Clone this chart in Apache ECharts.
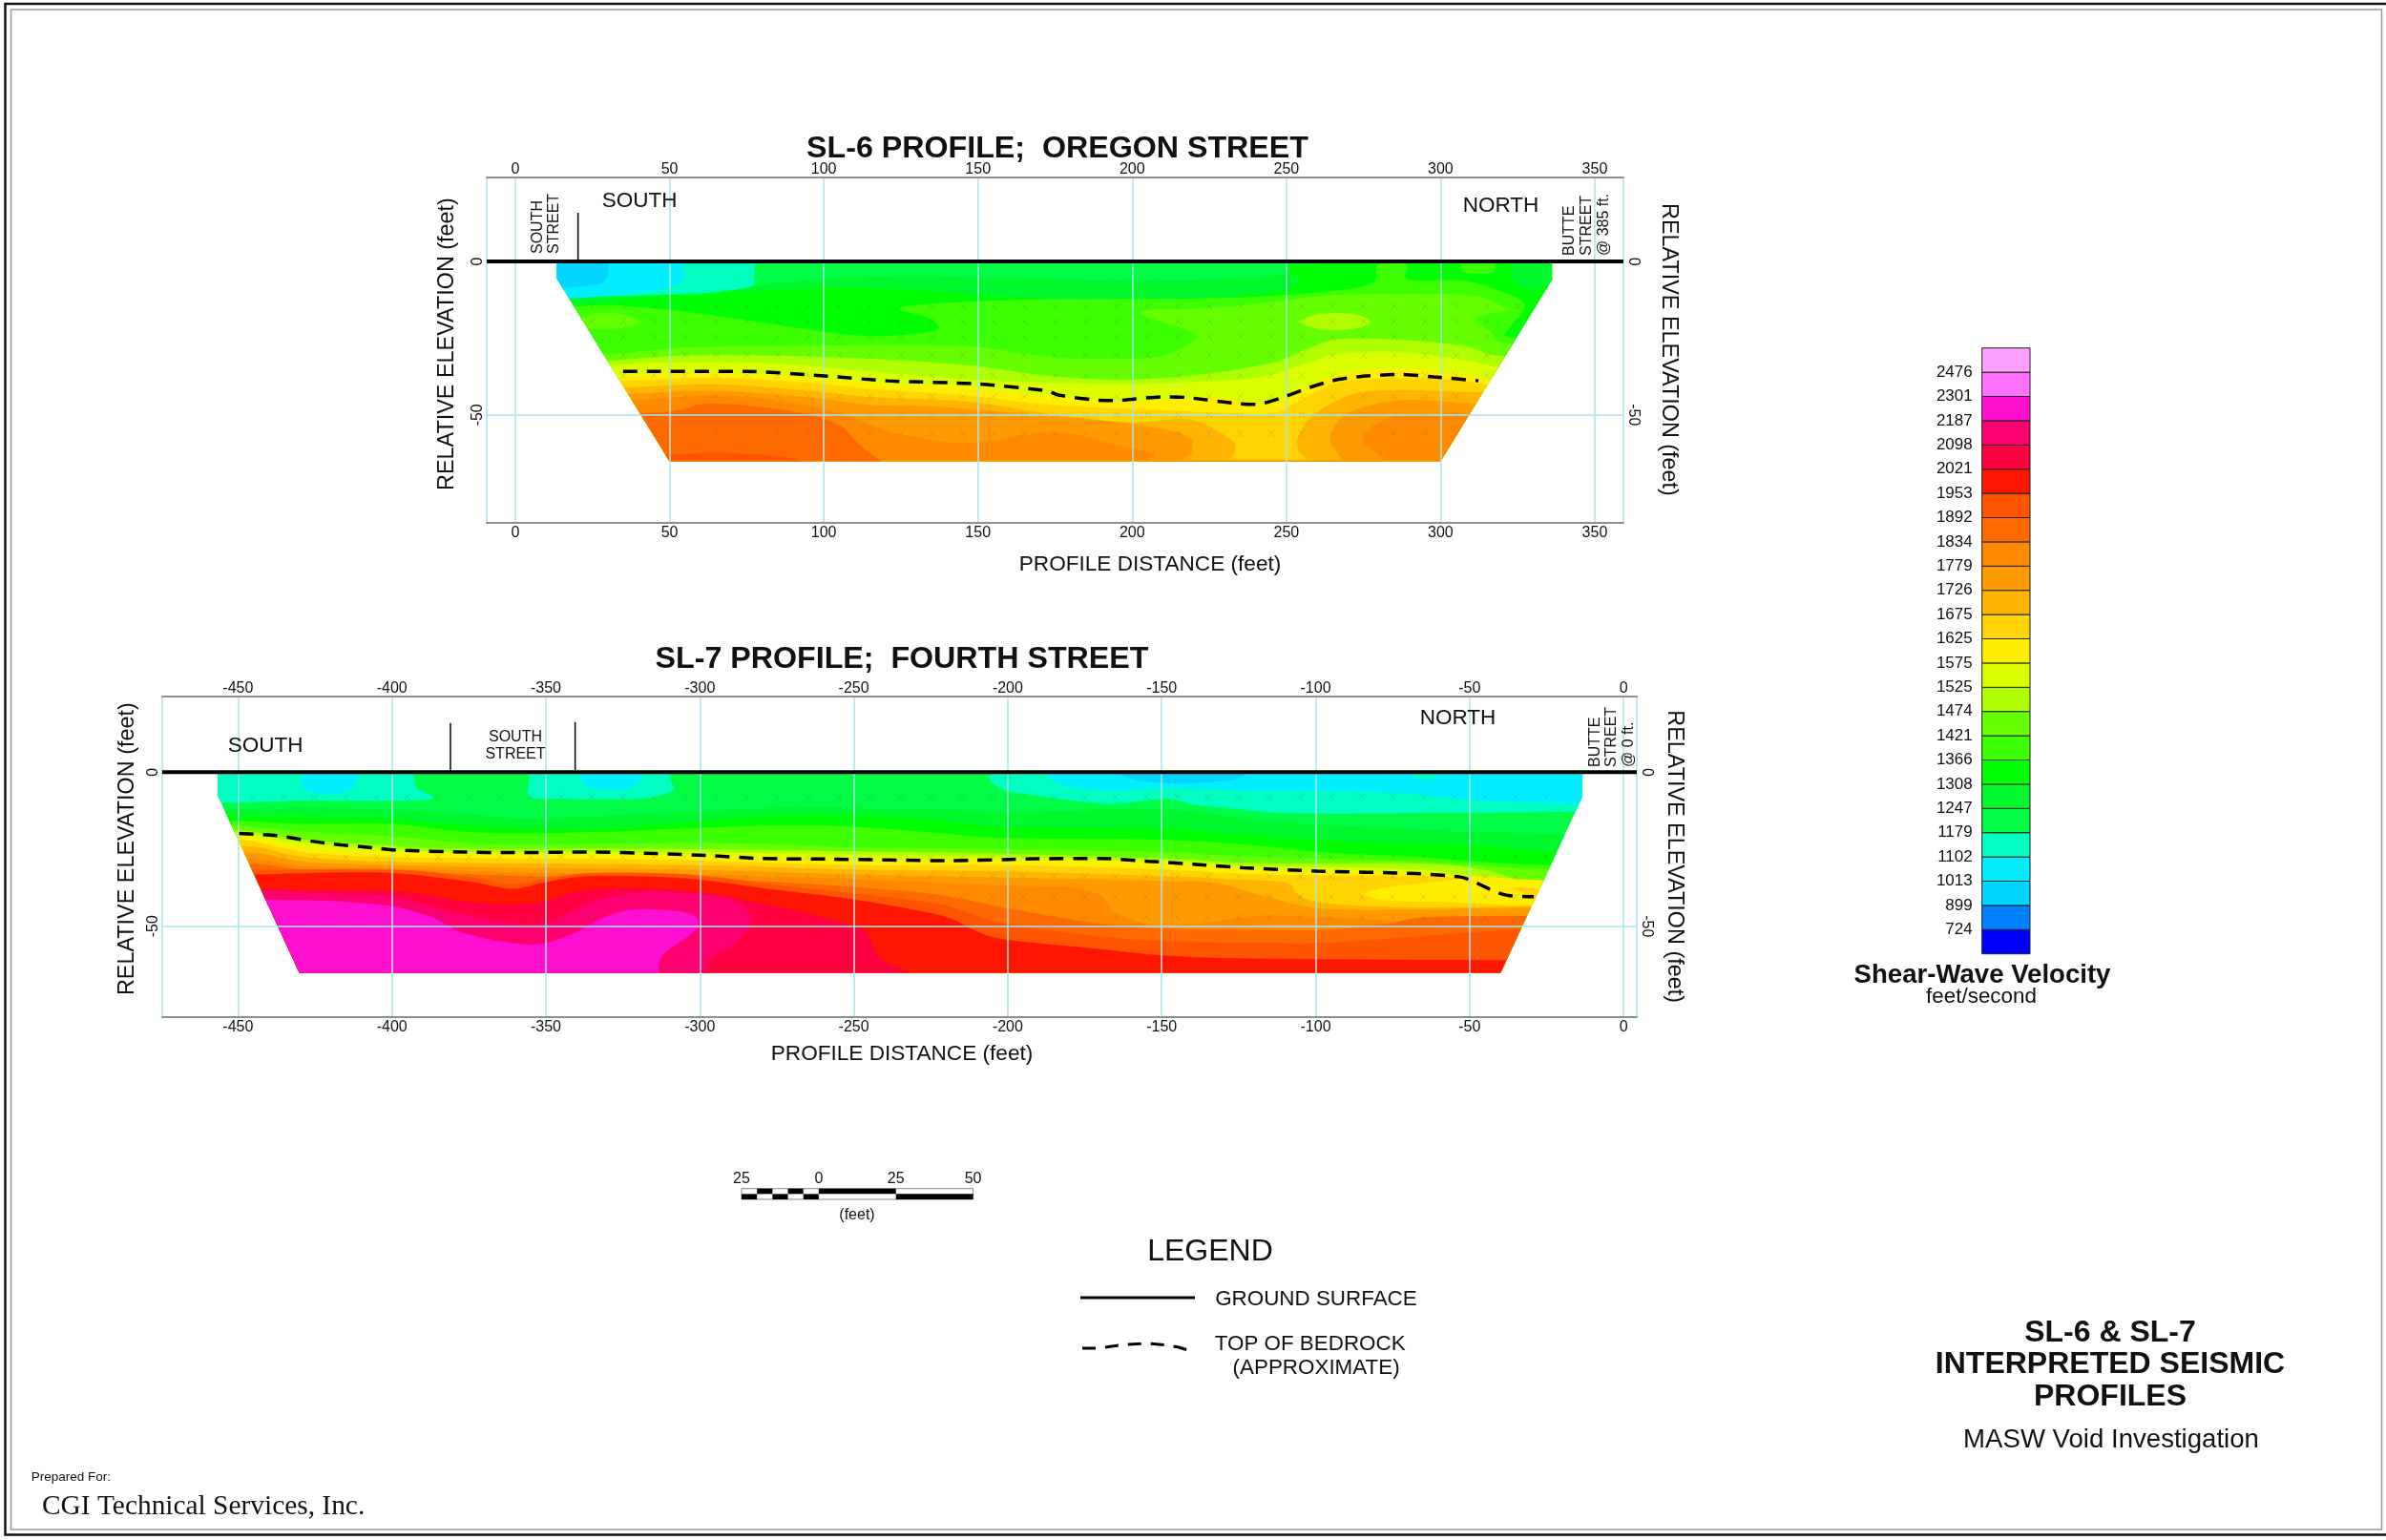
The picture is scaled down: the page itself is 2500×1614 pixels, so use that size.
<!DOCTYPE html>
<html><head><meta charset="utf-8">
<style>html,body{margin:0;padding:0;background:#fff}#c{width:2500px;height:1614px}</style>
<script src="https://cdn.jsdelivr.net/npm/echarts@6/dist/echarts.min.js"></script>
</head><body><div id="c"></div>
<script>
// ---- velocity scale (feet/second) ----
const velocityLabels = [724,899,1013,1102,1179,1247,1308,1366,1421,1474,1525,1575,1625,1675,1726,1779,1834,1892,1953,2021,2098,2187,2301,2476];
const velocityColors = ['#0000ff','#0080ff','#00d4ff','#00eeff','#00ffc0','#00fc44','#00f82c','#00ff00','#3cff00','#66ff00','#b0ff00','#dcff00','#ffee00','#ffd400','#ffb400','#ff9a00','#ff8a00','#ff6a00','#ff5500','#ff1500','#ff0040','#ff0070','#ff10d0','#ff70ff','#ffa0ff'];

// ---- SL-6 : section outline, [distance ft, elevation ft] ----
const sl6Outline = [[13.5,0],[13.5,-5.5],[50,-65],[300,-65],[336,-6],[336,0]];
const sl6BaseVelocity = 1210;
const sl6C1280 = [[0,-11],[53.7,-10],[76,-8],[100,-6],[130,-5],[174,-6],[205,-6.5],[240,-5.5],[254,-3],[257,0],[345,0]];
const sl6C1340 = [[0,-14],[18.6,-14.2],[53.7,-10.6],[84.6,-9.5],[110.4,-8.5],[136,-10],[174,-12.4],[215,-12.7],[246,-10],[254.5,-6.4],[256.6,-0.7],[345,-0.7]];
const sl6C1390 = [[0,-14.5],[18.6,-14.7],[33,-14.4],[53.7,-16.3],[79.5,-19.9],[100,-23],[115.6,-24.4],[131,-23.5],[137.3,-22],[134.2,-18.4],[124.9,-15],[146.6,-13.2],[174,-12.4],[225.6,-12.1],[254.5,-10.6],[277.2,-7.5],[279.8,-1],[289,-1],[289.6,-6],[308.2,-6.4],[321.6,-10.6],[327,-13.5],[326,-17],[322,-22],[322.6,-24.6],[345,-25]];
const sl6C1450 = [[0,-31],[31,-30.3],[53.7,-28.2],[84.6,-27.7],[115.6,-27.2],[146.6,-27.7],[174,-31.3],[194.6,-31.8],[210,-30.8],[220.4,-25.6],[218.4,-22.5],[202.9,-16.5],[225.6,-15.2],[246.2,-13.2],[266.9,-11],[308.2,-11],[321,-15.2],[324,-15.8],[316.4,-16.8],[311.3,-18.9],[316.4,-23],[320.5,-26.7],[345,-28]];
const sl6C1500 = [[0,-34],[31,-32.4],[53.7,-30.8],[84.6,-30.8],[115.6,-31.8],[146.6,-33.9],[174,-37.5],[199.8,-38.6],[225.6,-36.5],[246.2,-32.9],[256.6,-28.7],[266.9,-25.4],[287.5,-25.6],[308.2,-27.7],[318.5,-30.8],[345,-32]];
const sl6C1550 = [[0,-36],[31.5,-33.9],[53.7,-32.9],[84.6,-33.4],[115.6,-36],[146.6,-38.6],[174,-39.6],[199.8,-40.1],[225.6,-39.1],[241,-38],[254.5,-33.9],[266.9,-30.3],[287.5,-29.8],[308.2,-32.4],[318.5,-34.4],[345,-36]];
const sl6C1600 = [[0,-38],[34,-37],[64,-36.5],[89.8,-37.5],[115.6,-39.6],[146.6,-41.2],[174,-44],[199.8,-45.8],[225.6,-44.3],[241,-46.4],[248.3,-45.3],[256.6,-41.2],[266.9,-37],[287.5,-35],[308.2,-37],[315.4,-38.6],[345,-39]];
const sl6C1650 = [[0,-40],[34.6,-39.1],[64,-38],[95,-39.6],[115.6,-41.7],[146.6,-43.8],[174,-46.9],[205,-48.4],[230.8,-49.5],[246.2,-49.5],[254.5,-45.3],[266.9,-39.6],[287.5,-38],[308.2,-39.1],[314.4,-40.1],[345,-41]];
const sl6C1700 = [[0,-42],[35.6,-41.2],[64,-40.1],[95,-42.2],[115.6,-44.3],[146.6,-45.8],[174,-49.9],[199.8,-52.6],[218.4,-51.5],[231.8,-58],[233.3,-61.9],[232.3,-67],[256.6,-67],[253.5,-60.9],[254.5,-55.7],[259.7,-49.5],[272,-43.2],[287.5,-42],[311.3,-42.7],[345,-43]];
const sl6C1750 = [[0,-44],[37.2,-43.2],[64,-42.2],[95,-44.3],[115.6,-46.9],[136.2,-47.4],[174,-50.5],[199.8,-53.1],[217.3,-56.7],[219.4,-61.9],[218.4,-67],[264.8,-67],[264.3,-57.8],[270,-49.5],[287.5,-45.3],[311.3,-46.4],[345,-47]];
const sl6C1800 = [[0,-46],[38.2,-45.3],[64,-43.8],[84.6,-45.3],[105.3,-49.5],[115.6,-53.6],[125.9,-56.7],[146.6,-59.3],[174,-55.7],[194.6,-59.8],[207,-63],[208,-67],[277.2,-67],[274.6,-57.8],[282.4,-51.5],[297.8,-49.9],[310,-49.5],[345,-49.5]];
const sl6C1860 = [[0,-50],[41.3,-49.5],[53.7,-48.4],[61.9,-46.4],[78.4,-47.4],[95,-49.9],[105.3,-53.6],[111.5,-59.8],[119.7,-66],[125,-70],[345,-70]];
const sl6C1920 = [[0,-64],[50.6,-63],[64,-62.4],[84.6,-63.5],[94,-65.5],[100,-70],[345,-70]];
const sl6Curves = [[1280,sl6C1280],[1340,sl6C1340],[1390,sl6C1390],[1450,sl6C1450],[1500,sl6C1500],[1550,sl6C1550],[1600,sl6C1600],[1650,sl6C1650],[1700,sl6C1700],[1750,sl6C1750],[1800,sl6C1800],[1860,sl6C1860],[1920,sl6C1920]];
const sl6Islands = [
  [1390,[[307,1],[307,-3],[312,-4],[317.4,-3],[317.4,1]]],
  [1280,[[323.6,1],[323.6,-6],[330,-9],[337,-6],[337,1]]],
  [1450,[[20,-19],[27,-17],[35,-17.3],[40.3,-19.5],[35,-21.5],[27,-22],[21,-21],[20,-19]]],
  [1500,[[254,-19.7],[259,-17.5],[266,-16.9],[273,-17.5],[277.2,-19.7],[273,-21.6],[266,-22.3],[259,-21.6],[254,-19.7]]],
  [1140,[[0,1],[0,-11],[31,-11.2],[53.7,-10.6],[64,-10],[76.4,-8],[77.4,-5],[77.4,1]]],
  [1060,[[10,1],[10,-11],[30,-11],[43,-9.5],[52,-7.5],[54.7,-5],[53.7,1]]],
  [950,[[10,1],[10,-8],[25,-7.5],[29,-6],[30,-3],[30,1]]]
];
const sl6Bedrock = [[34.9,-35.8],[74.3,-35.8],[100,-37.3],[120.8,-38.9],[149.6,-39.9],[172.4,-42.2],[176,-43.5],[187.4,-45.1],[194.6,-45.3],[210.1,-44.1],[217.3,-44.3],[234.9,-46.4],[240,-46.6],[249.3,-44.1],[256.6,-41.4],[264.8,-38.9],[273,-37.6],[286.5,-36.8],[297.8,-37.6],[312.3,-38.9]];
const sl6StreetTicks = [[20.3,15.9]];
const sl6SampleX = [25,35,45,55,65,75,85,95,105,115,125,135,145,155,165,175,185,195,205,215,225,235,245,255,265,275,285,295,305,315,325];
const sl6SampleElev = [-14.6,-19.5,-24.6,-30.6,-37.2,-44,-50,-56];

// ---- SL-7 ----
const sl7Outline = [[-456.5,0],[-456.5,-7.5],[-430,-65],[-40,-65],[-13.5,-8],[-13.5,0]];
const sl7BaseVelocity = 1210;
const sl7C1280 = [[-480,-12],[-455,-12.2],[-417.8,-11.6],[-376.4,-13.7],[-355.8,-15.3],[-329.9,-14.2],[-304.1,-13.2],[-273.1,-11.6],[-221.4,-12.2],[-200.8,-13.2],[-149.1,-12.2],[-118.1,-15.8],[-76.8,-18.3],[-20,-20.4],[10,-21]];
const sl7C1340 = [[-480,-14],[-454,-14.2],[-428,-14.7],[-400.2,-15.3],[-376.4,-17.3],[-355.8,-18.3],[-329.9,-18.3],[-304.1,-16.3],[-273.1,-14.2],[-249.3,-14.2],[-221.4,-15.8],[-200.8,-17.8],[-149.1,-18.3],[-118.1,-20.9],[-76.8,-23],[-45.8,-24],[-22,-26.1],[10,-27]];
const sl7C1390 = [[-480,-15.5],[-452.9,-15.8],[-428,-16.8],[-400.2,-16.8],[-376.4,-19.4],[-355.8,-19.9],[-329.9,-19.4],[-304.1,-18.3],[-273.1,-17.3],[-249.3,-17.8],[-221.4,-19.9],[-200.8,-21.4],[-149.1,-22],[-118.1,-24],[-97.4,-26.1],[-66.4,-27.6],[-45.8,-29.2],[-25.1,-30.2],[10,-31]];
const sl7C1450 = [[-480,-17],[-451.9,-17.3],[-428,-19.4],[-400.2,-20.9],[-376.4,-23],[-355.8,-23.5],[-304.1,-23],[-273.1,-23.5],[-249.3,-24.5],[-200.8,-25],[-149.1,-26.1],[-128.4,-27.1],[-97.4,-28.1],[-66.4,-29.2],[-26.1,-31.7],[10,-32]];
const sl7C1500 = [[-480,-18.5],[-450.8,-18.9],[-428,-22],[-400.2,-24],[-376.4,-25],[-304.1,-25],[-249.3,-25.8],[-200.8,-26.6],[-149.1,-28.1],[-118.1,-29.7],[-66.4,-29.7],[-45.8,-31.7],[-35.4,-34.8],[-28.2,-36.4],[10,-37]];
const sl7C1550 = [[-480,-19.5],[-450.3,-19.9],[-428,-23],[-400.2,-25],[-376.4,-26.1],[-304.1,-26.1],[-249.3,-26.8],[-200.8,-27.6],[-149.1,-28.7],[-118.1,-30.5],[-66.4,-31.7],[-45.8,-34.3],[-29.2,-37.9],[10,-38.5]];
const sl7C1600 = [[-480,-20.5],[-450,-20.9],[-428,-24.5],[-400.2,-26.1],[-355.8,-26.8],[-304.1,-27.1],[-249.3,-28.5],[-200.8,-28.7],[-149.1,-29.7],[-118.1,-31.7],[-66.4,-32.8],[-30,-35],[10,-36]];
const sl7C1650 = [[-480,-22],[-449.3,-22],[-428,-26.1],[-400.2,-27.6],[-355.8,-28.1],[-304.1,-28.7],[-249.3,-30.2],[-200.8,-30.2],[-149.1,-31.7],[-118.1,-33.3],[-66.4,-33.8],[-50.9,-34.8],[-28,-38],[10,-38.5]];
const sl7C1700 = [[-480,-24],[-448.3,-24],[-428,-27.6],[-400.2,-29.2],[-355.8,-29.7],[-304.1,-30.2],[-249.3,-31.7],[-200.8,-32.3],[-149.1,-33.8],[-128.4,-34.8],[-109.8,-35.9],[-106.2,-39.5],[-97.4,-42.6],[-66.4,-44.1],[-30.3,-43.6],[10,-43.6]];
const sl7C1750 = [[-480,-26],[-447.2,-26],[-428,-29.2],[-400.2,-30.2],[-355.8,-31.2],[-304.1,-31.7],[-249.3,-33.3],[-200.8,-34.3],[-149.1,-35.4],[-133.6,-35.9],[-118.1,-40],[-105.7,-43.1],[-94.3,-44.6],[-66.4,-44.6],[-30.3,-44.1],[10,-44]];
const sl7C1800 = [[-480,-28],[-446.2,-28.1],[-428,-30.7],[-400.2,-31.2],[-355.8,-32.8],[-304.1,-33.3],[-249.3,-34.8],[-200.8,-36.9],[-180.1,-37.4],[-169.8,-40],[-165.6,-45.2],[-152.2,-49.8],[-138.8,-49.3],[-118.1,-46.7],[-97.4,-47.2],[-76.8,-48.2],[-66.4,-48.8],[-30,-47],[10,-47]];
const sl7C1860 = [[-480,-29.5],[-445.7,-29.7],[-428,-31.7],[-400.2,-32.3],[-355.8,-33.8],[-304.1,-34.3],[-249.3,-37.4],[-221.4,-40],[-200.8,-44.1],[-169.8,-49.3],[-149.1,-50.8],[-118.1,-51.3],[-97.4,-51.3],[-76.8,-49.3],[-64.4,-47.2],[-32.3,-46.7],[10,-46.7]];
const sl7C1920 = [[-480,-31],[-445.2,-31.7],[-400.2,-31.7],[-376.4,-33.8],[-360.9,-36.4],[-350.6,-34.8],[-335.1,-32.8],[-304.1,-33.3],[-273.1,-36.9],[-249.3,-39.5],[-221.4,-43.1],[-200.8,-49.3],[-169.8,-53.4],[-149.1,-54.9],[-118.1,-55.5],[-97.4,-55.5],[-66.4,-53.4],[-35.4,-51.3],[10,-51]];
const sl7C1990 = [[-480,-33],[-444.6,-33.3],[-428,-32.8],[-400.2,-32.8],[-376.4,-35.4],[-360.9,-37.9],[-350.6,-35.9],[-335.1,-33.8],[-304.1,-34.6],[-278.3,-37.9],[-249.3,-41.5],[-221.4,-46.7],[-211.1,-51.3],[-200.8,-54.4],[-169.8,-57.5],[-149.1,-59.6],[-118.1,-60.6],[-38.5,-61.1],[10,-61]];
const sl7C2060 = [[-480,-38],[-441,-38],[-428,-38.5],[-400.2,-38.5],[-376.4,-42],[-360.9,-43.1],[-350.6,-42],[-335.1,-38],[-304.1,-38.5],[-273.1,-44.1],[-249.3,-50.3],[-245.2,-53.4],[-243.1,-58.6],[-238,-62.7],[-229.7,-66]];
const sl7C2140 = [[-480,-38.5],[-441.5,-38.5],[-417.8,-39.5],[-400.2,-40.5],[-381.6,-45.2],[-366.1,-48.2],[-350.6,-49.3],[-335.1,-42],[-319.6,-39],[-304.1,-39.5],[-290.7,-41],[-283.4,-47.2],[-288.6,-55.5],[-296.9,-60.6],[-297.9,-66]];
const sl7C2240 = [[-480,-41.5],[-440,-41.5],[-417.8,-42],[-400.2,-43.6],[-386.8,-47.2],[-376.4,-52.4],[-355.8,-56],[-343.4,-53.4],[-329.9,-46.7],[-319.6,-44.6],[-304.1,-45.7],[-300.5,-49.3],[-304.1,-53.4],[-312.4,-59.6],[-313.4,-66]];
const sl7Curves = [[1280,sl7C1280],[1340,sl7C1340],[1390,sl7C1390],[1450,sl7C1450],[1500,sl7C1500],[1550,sl7C1550],[1600,sl7C1600],[1650,sl7C1650],[1700,sl7C1700],[1750,sl7C1750],[1800,sl7C1800],[1860,sl7C1860],[1920,sl7C1920],[1990,sl7C1990],[2060,sl7C2060],[2140,sl7C2140],[2240,sl7C2240]];
const sl7Islands = [
  [1600,[[-85,-39.5],[-76.8,-37.4],[-59.2,-35.4],[-50.9,-34.3],[-40,-36],[-30,-41],[-31.3,-43.1],[-56,-42.1],[-76.8,-41.5],[-85,-39.5]]],
  [1140,[[-460,1],[-460,-9.1],[-428,-9.1],[-393,-9.1],[-386.8,-8],[-392,-5],[-393,1]]],
  [1060,[[-429,1],[-429,-4.5],[-425,-6.5],[-415,-6.5],[-411.5,-3],[-411.5,1]]],
  [1140,[[-355,1],[-355.5,-4],[-355,-8],[-345,-8.6],[-320,-8.6],[-309,-6],[-309.5,-3],[-310,1]]],
  [1060,[[-338,1],[-338,-3.5],[-332,-5.5],[-325,-5.5],[-319.6,-3],[-319.6,1]]],
  [1140,[[-205.4,1],[-205.4,-3],[-200,-6],[-190.4,-7.5],[-180,-9],[-165,-10.1],[-149,-8.6],[-138.8,-10.6],[-128.4,-11.6],[-107.8,-13.2],[-66.4,-13.2],[-16.8,-12.7],[-5,-12],[-5,1]]],
  [1060,[[-188.4,1],[-186,-2],[-180,-4.5],[-165.6,-6],[-149,-4.9],[-118.1,-6],[-76.8,-6.5],[-45.8,-9.1],[-13.5,-10.1],[-5,-10],[-5,1]]],
  [950,[[-165.6,1],[-160,-2],[-149,-3.4],[-138.8,-3.4],[-125.3,-2],[-122,1]]],
  [1140,[[-69.5,1],[-67,-2],[-62,-2],[-60,1]]]
];
const sl7Bedrock = [[-449.6,-19.9],[-437.4,-20.6],[-421.9,-23],[-406.4,-24.5],[-398.1,-25.3],[-376.4,-25.9],[-360.9,-26.1],[-335.1,-25.9],[-314.4,-26.4],[-295.8,-27.1],[-280.3,-28],[-257.6,-28.2],[-219.4,-28.7],[-190.4,-28.1],[-169.8,-28],[-154.3,-28.9],[-138.8,-29.9],[-123.3,-31],[-99.5,-32.1],[-67.5,-32.9],[-53,-34],[-48.9,-35.4],[-41.6,-38.8],[-37.5,-40],[-29.2,-40.4]];
const sl7StreetTicks = [[-381,16],[-340.5,16.3]];
const sl7SampleX = [-445,-435,-425,-415,-405,-395,-385,-375,-365,-355,-345,-335,-325,-315,-305,-295,-285,-275,-265,-255,-245,-235,-225,-215,-205,-195,-185,-175,-165,-155,-145,-135,-125,-115,-105,-95,-85,-75,-65,-55,-45,-35,-25];
const sl7SampleElev = [-8,-27.6,-33.8,-40.5,-47];

// ---- scale bar, [from ft, to ft] ----
const scaleBlackTop = [[-20,-15],[-10,-5],[0,25]];
const scaleBlackBottom = [[-25,-20],[-15,-10],[-5,0],[25,50]];

// ---- helpers (rendering only) ----
function colorOf(v){let i=0;while(i<velocityLabels.length&&v>=velocityLabels[i])i++;return velocityColors[i];}
function spline(pts){
  const o=[];const n=pts.length;
  for(let i=0;i<n-1;i++){
    const p0=pts[Math.max(i-1,0)],p1=pts[i],p2=pts[i+1],p3=pts[Math.min(i+2,n-1)];
    for(let s=0;s<8;s++){const t=s/8,t2=t*t,t3=t2*t;
      o.push([0.5*(2*p1[0]+(p2[0]-p0[0])*t+(2*p0[0]-5*p1[0]+4*p2[0]-p3[0])*t2+(3*p1[0]-p0[0]-3*p2[0]+p3[0])*t3),
              0.5*(2*p1[1]+(p2[1]-p0[1])*t+(2*p0[1]-5*p1[1]+4*p2[1]-p3[1])*t2+(3*p1[1]-p0[1]-3*p2[1]+p3[1])*t3)]);}
  }
  o.push(pts[n-1]);return o;
}
function polySign(clip){let area=0;const n=clip.length;for(let i=0;i<n;i++){const a=clip[i],b=clip[(i+1)%n];area+=a[0]*b[1]-b[0]*a[1];}return area>0?1:-1;}
function clipConvex(subject,clip){
  let out=subject;const n=clip.length,sgn=polySign(clip);
  for(let i=0;i<n&&out.length;i++){
    const a=clip[i],b=clip[(i+1)%n],inp=out;out=[];
    const side=p=>sgn*((b[0]-a[0])*(p[1]-a[1])-(b[1]-a[1])*(p[0]-a[0]));
    for(let j=0;j<inp.length;j++){
      const c=inp[j],d=inp[(j+1)%inp.length],sc=side(c),sd=side(d);
      if(sc>=0)out.push(c);
      if((sc>=0)!==(sd>=0)){const t=sc/(sc-sd);out.push([c[0]+t*(d[0]-c[0]),c[1]+t*(d[1]-c[1])]);}
    }
  }
  return out;
}
function inside(p,clip){const sgn=polySign(clip);return clip.every((a,i)=>{const b=clip[(i+1)%clip.length];return sgn*((b[0]-a[0])*(p[1]-a[1])-(b[1]-a[1])*(p[0]-a[0]))>=0;});}
function buildLayers(outline,base,curves,islands){
  const layers=[{v:base,pts:outline}];
  curves.forEach(([v,c])=>{const s=spline(c);s.push([c[c.length-1][0],-120],[c[0][0],-120]);layers.push({v,pts:clipConvex(s,outline)});});
  islands.forEach(([v,c])=>layers.push({v,pts:clipConvex(spline(c),outline)}));
  return layers;
}
function contourSeries(layers,gi){
  return {type:'custom',coordinateSystem:'cartesian2d',xAxisIndex:gi*2,yAxisIndex:gi*2,z:1,silent:true,animation:false,
    data:layers.map((l,i)=>[i,l.v]),
    renderItem:(p,api)=>{const l=layers[p.dataIndex];
      return {type:'polygon',shape:{points:l.pts.map(q=>api.coord(q))},style:{fill:colorOf(l.v),stroke:colorOf(l.v),lineWidth:0.6}};}};
}
function sampleSeries(gi,xs,es,outline){
  const data=[];es.forEach(e=>xs.forEach(x=>{if(inside([x,e],outline))data.push([x,e]);}));
  return {type:'scatter',xAxisIndex:gi*2,yAxisIndex:gi*2,z:2,silent:true,animation:false,data,symbol:'path://M0 0L10 10M10 0L0 10',symbolSize:7,
    itemStyle:{color:'none',borderColor:'#666',borderWidth:1,opacity:0.22}};
}
function lineS(gi,data,width,dash,z){
  return {type:'line',xAxisIndex:gi*2,yAxisIndex:gi*2,data,showSymbol:false,symbol:'none',smooth:dash?0.25:false,z:z||5,silent:true,animation:false,
    lineStyle:{color:'#000',width,type:dash?[15,10]:'solid',cap:'butt'}};
}
const sans='"Liberation Sans"';
const GRID='#a6e6ea',FRAME='#8f8f8f';
function xAx(gi,pos,min,max){return {type:'value',gridIndex:gi,position:pos,min,max,splitNumber:gi?10:7,z:3,
  axisLine:{show:true,onZero:false,lineStyle:{color:FRAME,width:2}},axisTick:{show:false},
  splitLine:{show:pos==='bottom',lineStyle:{color:GRID,width:1.5}},
  axisLabel:{show:true,margin:pos==='top'?0:3,fontFamily:sans,fontSize:16,color:'#111',showMinLabel:false,showMaxLabel:false,formatter:v=>v%50===0?String(v):''}};}
function yAx(gi,pos,min,max,rot,name,gap,pad){return {type:'value',gridIndex:gi,position:pos,min,max,splitNumber:2,z:3,
  name,nameLocation:'middle',nameGap:gap,nameRotate:rot,nameTextStyle:{fontFamily:sans,fontSize:23.4,color:'#111',padding:pad||0},
  axisLine:{show:false},axisTick:{show:false},
  splitLine:{show:pos==='left',lineStyle:{color:GRID,width:1.5}},
  axisLabel:{show:true,margin:pos==='left'?1:2,rotate:rot,fontFamily:sans,fontSize:16,color:'#111',showMinLabel:false,showMaxLabel:false,formatter:v=>v%50===0?String(v):''}};}
function txt(text,x,y,size,opt){opt=opt||{};
  const font=(opt.bold?'bold ':'')+size+'px '+(opt.family||sans);
  const a=opt.align||'center',b=opt.base||'middle';
  const dy=b==='middle'?size*0.08:0;
  return {type:'text',x,y:y+dy,rotation:opt.rot||0,z:20,silent:true,style:{text,font,fontFamily:opt.family||sans,fontSize:size,fontWeight:opt.bold?'bold':'normal',fill:'#111',textAlign:a,textVerticalAlign:b,align:a,verticalAlign:b,lineHeight:opt.lh}};
}
const sl6Layers=buildLayers(sl6Outline,sl6BaseVelocity,sl6Curves,sl6Islands);
const sl7Layers=buildLayers(sl7Outline,sl7BaseVelocity,sl7Curves,sl7Islands);
const sl6X=[-9.3,359.3],sl6Y=[-85,27.5],sl7X=[-474.6,4.3],sl7Y=[-79.5,24.8];
const R90=Math.PI/2;

const option={
  animation:false,backgroundColor:'#fff',
  title:[
    {text:'SL-6 PROFILE;  OREGON STREET',left:1103,top:151,textAlign:'center',textVerticalAlign:'middle',textStyle:{fontFamily:sans,fontSize:32.2,fontWeight:'bold',color:'#111'}},
    {text:'SL-7 PROFILE;  FOURTH STREET',left:940,top:686,textAlign:'center',textVerticalAlign:'middle',textStyle:{fontFamily:sans,fontSize:32.2,fontWeight:'bold',color:'#111'}}
  ],
  grid:[
    {left:510,top:185.7,width:1191,height:361.6},
    {left:170,top:729.3,width:1545,height:336.7},
    {left:2076.7,top:364.7,width:50.3,height:635},
    {left:777,top:1245.7,width:242.6,height:11.3}
  ],
  xAxis:[
    xAx(0,'bottom',sl6X[0],sl6X[1]),xAx(0,'top',sl6X[0],sl6X[1]),
    xAx(1,'bottom',sl7X[0],sl7X[1]),xAx(1,'top',sl7X[0],sl7X[1]),
    {type:'value',gridIndex:2,min:0,max:1,show:false},
    {type:'value',gridIndex:3,min:-25,max:50,interval:25,position:'top',
      axisLine:{show:false},axisTick:{show:false},splitLine:{show:false},
      axisLabel:{margin:2,fontFamily:sans,fontSize:16,color:'#111',showMinLabel:true,showMaxLabel:true,formatter:v=>String(Math.abs(v))}}
  ],
  yAxis:[
    yAx(0,'left',sl6Y[0],sl6Y[1],90,'RELATIVE ELEVATION (feet)',30,[0,0,0,12]),yAx(0,'right',sl6Y[0],sl6Y[1],-90,'RELATIVE ELEVATION (feet)',36),
    yAx(1,'left',sl7Y[0],sl7Y[1],90,'RELATIVE ELEVATION (feet)',18,[0,0,0,16]),yAx(1,'right',sl7Y[0],sl7Y[1],-90,'RELATIVE ELEVATION (feet)',28),
    {type:'value',gridIndex:2,min:0,max:25,interval:1,axisLine:{show:false},axisTick:{show:false},splitLine:{show:false},
      axisLabel:{margin:10,fontFamily:sans,fontSize:17,color:'#111',padding:[3,0,0,0],formatter:v=>(v>=1&&v<=velocityLabels.length)?String(velocityLabels[v-1]):''}},
    {type:'value',gridIndex:3,min:0,max:2,interval:1,show:false}
  ],
  series:[
    contourSeries(sl6Layers,0),contourSeries(sl7Layers,1),
    sampleSeries(0,sl6SampleX,sl6SampleElev,sl6Outline),sampleSeries(1,sl7SampleX,sl7SampleElev,sl7Outline),
    lineS(0,sl6Bedrock,3.5,true),lineS(1,sl7Bedrock,3.5,true),
    lineS(0,[[sl6X[0],0],[sl6X[1],0]],4),lineS(1,[[sl7X[0],0],[sl7X[1],0]],4),
    ...sl6StreetTicks.map(([x,h])=>lineS(0,[[x,0],[x,h]],1.5)),
    ...sl7StreetTicks.map(([x,h])=>lineS(1,[[x,0],[x,h]],1.5)),
    {type:'custom',coordinateSystem:'cartesian2d',xAxisIndex:4,yAxisIndex:4,silent:true,animation:false,
      data:velocityColors.map((c,i)=>[i]),
      encode:{y:0},
      renderItem:(p,api)=>{const i=p.dataIndex,a=api.coord([0,i+1]),b=api.coord([1,i]);
        return {type:'rect',shape:{x:a[0],y:a[1],width:b[0]-a[0],height:b[1]-a[1]},style:{fill:velocityColors[i],stroke:'#222',lineWidth:1}};}},
    {type:'custom',coordinateSystem:'cartesian2d',xAxisIndex:5,yAxisIndex:5,silent:true,animation:false,
      data:[[-25,50,0,2,0],...scaleBlackTop.map(s=>[s[0],s[1],1,2,1]),...scaleBlackBottom.map(s=>[s[0],s[1],0,1,1])],
      encode:{x:[0,1]},
      renderItem:(p,api)=>{const a=api.coord([api.value(0),api.value(3)]),b=api.coord([api.value(1),api.value(2)]),k=api.value(4);
        return {type:'rect',shape:{x:a[0],y:a[1],width:b[0]-a[0],height:b[1]-a[1]},style:k?{fill:'#000'}:{fill:'#fff',stroke:'#888',lineWidth:1}};}}
  ],
  graphic:{elements:[
    {type:'rect',shape:{x:5.5,y:4,width:2600,height:1604.5},silent:true,z:-1,style:{fill:'none',stroke:'#111',lineWidth:2.5}},
    {type:'rect',shape:{x:11.5,y:10,width:2484,height:1593},silent:true,z:-1,style:{fill:'none',stroke:'#999',lineWidth:1.5}},
    txt('PROFILE DISTANCE (feet)',1205,590,22.6),
    txt('PROFILE DISTANCE (feet)',945,1103,22.6),
    txt('SOUTH',670,208.5,22.5),txt('NORTH',1572.5,214,22.5),
    txt('SOUTH\nSTREET',555.5,266,16,{rot:R90,align:'left',base:'top',lh:17}),
    txt('BUTTE\nSTREET\n@ 385 ft.',1636,268,16,{rot:R90,align:'left',base:'top',lh:18}),
    txt('SOUTH',278,780,22.5),txt('NORTH',1527.5,751,22.5),
    txt('SOUTH\nSTREET',540,780,16,{lh:18}),
    txt('BUTTE\nSTREET\n@ 0 ft.',1662.5,804,16,{rot:R90,align:'left',base:'top',lh:17.5}),
    txt('Shear-Wave Velocity',2077,1020,27.6,{bold:true}),
    txt('feet/second',2076,1043,22.4),
    txt('(feet)',898,1272,16),
    txt('LEGEND',1268,1310,32),
    {type:'line',shape:{x1:1132,y1:1360,x2:1252,y2:1360},silent:true,style:{stroke:'#000',lineWidth:3}},
    txt('GROUND SURFACE',1273.2,1360,22.4,{align:'left'}),
    {type:'polyline',shape:{points:[[1134,1413],[1148,1413],[1158,1412],[1172,1410],[1183,1409],[1198,1408],[1209,1408.5],[1225,1410],[1235,1412],[1248,1416]]},silent:true,style:{stroke:'#000',fill:'none',lineWidth:3,lineDash:[14,10]}},
    txt('TOP OF BEDROCK',1272.7,1407,22.4,{align:'left'}),
    txt('(APPROXIMATE)',1291.6,1431.7,22.4,{align:'left'}),
    txt('SL-6 & SL-7',2211,1395,32,{bold:true}),
    txt('INTERPRETED SEISMIC',2211,1428,32,{bold:true}),
    txt('PROFILES',2211,1461.7,32,{bold:true}),
    txt('MASW Void Investigation',2212,1506.7,27.6),
    txt('Prepared For:',32.7,1547,13.5,{align:'left'}),
    txt('CGI Technical Services, Inc.',44,1576.7,29.4,{align:'left',family:'"Liberation Serif"'})
  ]}
};
const chart=echarts.init(document.getElementById('c'),null,{renderer:'canvas',width:2500,height:1614});
chart.setOption(option);
</script></body></html>
